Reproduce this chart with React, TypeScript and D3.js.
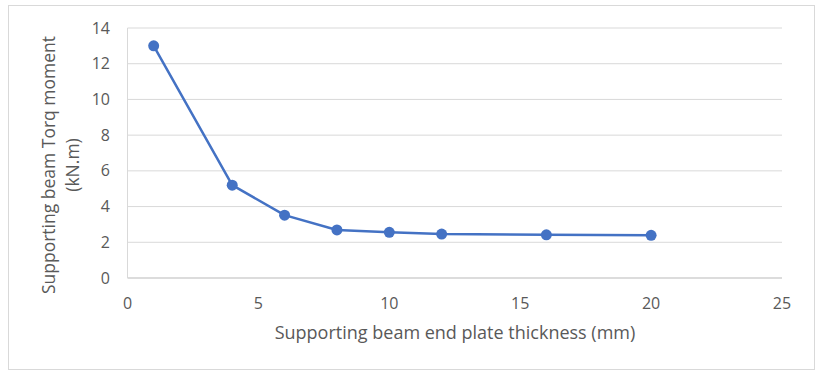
import { useEffect, useRef } from 'react'
import * as d3 from 'd3'

const thickness = [1, 4, 6, 8, 10, 12, 16, 20]
const torque = [13.0, 5.2, 3.52, 2.69, 2.56, 2.46, 2.42, 2.39]
const xTicks = [0, 5, 10, 15, 20, 25]
const yTicks = [0, 2, 4, 6, 8, 10, 12, 14]

const W = 823
const H = 372

export default function App() {
  const svgRef = useRef<SVGSVGElement | null>(null)

  useEffect(() => {
    if (!svgRef.current) return
    const svg = d3.select(svgRef.current)
    svg.selectAll('*').remove()

    const font = '"Open Sans", "Liberation Sans", sans-serif'
    const textColor = '#595959'

    // chart frame
    svg.append('rect')
      .attr('x', 8.5).attr('y', 5.5)
      .attr('width', 806).attr('height', 364)
      .attr('fill', '#fff').attr('stroke', '#d9d9d9')

    const x = d3.scaleLinear().domain([0, 25]).range([127.5, 782])
    const y = d3.scaleLinear().domain([0, 14]).range([278, 28])

    const g = svg.append('g')

    g.selectAll('.grid')
      .data(yTicks.filter(d => d > 0))
      .join('line')
      .attr('x1', x(0)).attr('x2', x(25))
      .attr('y1', d => y(d)).attr('y2', d => y(d))
      .attr('stroke', '#d9d9d9').attr('stroke-width', 1)

    // axes lines
    g.append('line')
      .attr('x1', x(0)).attr('x2', x(25))
      .attr('y1', y(0)).attr('y2', y(0))
      .attr('stroke', '#d0d0d0').attr('stroke-width', 1.5)
    g.append('line')
      .attr('x1', x(0)).attr('x2', x(0))
      .attr('y1', y(0)).attr('y2', y(14))
      .attr('stroke', '#d9d9d9').attr('stroke-width', 1)

    g.selectAll('.ytick')
      .data(yTicks)
      .join('text')
      .attr('x', 110).attr('y', d => y(d))
      .attr('dy', '0.35em')
      .attr('text-anchor', 'end')
      .attr('font-family', font).attr('font-size', 16)
      .attr('fill', textColor)
      .text(d => d)

    g.selectAll('.xtick')
      .data(xTicks)
      .join('text')
      .attr('x', d => x(d)).attr('y', 303)
      .attr('dy', '0.35em')
      .attr('text-anchor', 'middle')
      .attr('font-family', font).attr('font-size', 16)
      .attr('fill', textColor)
      .text(d => d)

    g.append('text')
      .attr('x', 455).attr('y', 333)
      .attr('dy', '0.35em')
      .attr('text-anchor', 'middle')
      .attr('font-family', font).attr('font-size', 18)
      .attr('fill', textColor)
      .text('Supporting beam end plate thickness (mm)')

    const yt = g.append('text')
      .attr('transform', 'translate(49,165) rotate(-90)')
      .attr('text-anchor', 'middle')
      .attr('font-family', font).attr('font-size', 17.5)
      .attr('fill', textColor)
    yt.append('tspan').attr('x', 0).attr('dy', '0.35em').text('Supporting beam Torq moment')
    yt.append('tspan').attr('x', 0).attr('dy', 24).text('(kN.m)')

    const pts = thickness.map((t, i) => [t, torque[i]] as [number, number])
    const line = d3.line<[number, number]>().x(d => x(d[0])).y(d => y(d[1]))

    g.append('path')
      .datum(pts)
      .attr('d', line)
      .attr('fill', 'none')
      .attr('stroke', '#4472c4')
      .attr('stroke-width', 2.5)
      .attr('stroke-linejoin', 'round')

    g.selectAll('.pt')
      .data(pts)
      .join('circle')
      .attr('cx', d => x(d[0])).attr('cy', d => y(d[1]))
      .attr('r', 5.5)
      .attr('fill', '#4472c4')
  }, [])

  return (
    <svg ref={svgRef} width={W} height={H}
      style={{ position: 'absolute', left: 0, top: 0 }} />
  )
}
